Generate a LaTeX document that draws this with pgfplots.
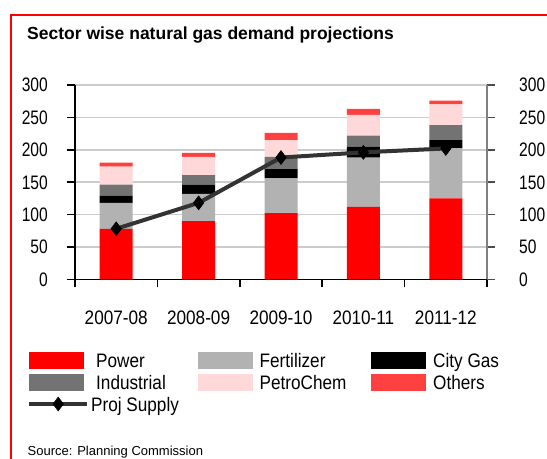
\documentclass[border=0pt]{standalone}
\usepackage{pgfplots}
\pgfplotsset{compat=1.18}
\usepackage{fontspec}
\setmainfont{Liberation Sans}
\newfontfamily\condfont{Liberation Sans}[FakeStretch=0.88]
\newfontfamily\ycondfont{Liberation Sans}[FakeStretch=0.8]
\definecolor{cPower}{RGB}{255,0,0}
\definecolor{cFert}{RGB}{178,178,178}
\definecolor{cCity}{RGB}{0,0,0}
\definecolor{cInd}{RGB}{115,115,115}
\definecolor{cPetro}{RGB}{255,217,217}
\definecolor{cOther}{RGB}{255,64,64}
\definecolor{cLine}{RGB}{51,51,51}
\definecolor{cGrid}{RGB}{204,204,204}
\pgfplotsset{
 barlegend/.style={legend image code/.code={\fill[##1] (0bp,-9.5bp) rectangle (55bp,7.5bp);}},
 linelegend/.style={legend image code/.code={\draw[##1, sharp plot, mark repeat=2, mark phase=2] plot coordinates {(0bp,-1bp) (29bp,-1bp) (58bp,-1bp)};}},
}
\newcommand{\lent}[2]{\hspace*{7bp}\makebox[#1][l]{\rule[-4.3bp]{0pt}{22bp}#2}}
\begin{document}
\begin{tikzpicture}[x=1bp,y=1bp]
\path[use as bounding box] (0,0) rectangle (547,459);
\draw[red, line width=2bp] (11,-5) -- (11,444) -- (560,444);
\node[anchor=base west, inner sep=0] at (27,419.5) {\fontsize{17.5bp}{21bp}\selectfont\bfseries Sector wise natural gas demand projections};
\node[anchor=base west, inner sep=0] at (27.5,3) {\fontsize{13bp}{15bp}\selectfont Source: Planning Commission};
\begin{axis}[
 at={(75bp,179.7bp)}, anchor=south west,
 width=412bp, height=194.3bp, scale only axis,
 xmin=-0.5, xmax=4.5, ymin=0, ymax=300,
 ybar stacked, bar width=33bp,
 axis x line*=bottom, axis y line*=left,
 axis line style={black, line width=1.5bp},
 xtick={0,...,4}, xticklabels={2007-08,2008-09,2009-10,2010-11,2011-12},
 minor xtick={-0.5,0.5,...,4.5},
 major x tick style={draw=none},
 minor x tick style={black, line width=1.5bp},
 y tick style={black, line width=1.5bp},
 tick align=outside, major tick length=8bp, minor tick length=8bp,
 ytick={0,50,...,300}, ymajorgrids, major grid style={cGrid, line width=1.5bp},
 /pgf/number format/assume math mode=true,
 xticklabel style={font=\condfont\fontsize{19.5bp}{23bp}\selectfont, anchor=north, inner sep=0pt, text height=14bp, text depth=0pt, yshift=-23bp},
 yticklabel style={font=\ycondfont\fontsize{19.5bp}{23bp}\selectfont, anchor=east, inner sep=0pt, text height=14bp, text depth=0pt, xshift=-19bp},
 legend columns=3,
 legend style={at={(-0.1165,-0.363)}, anchor=north west, draw=none, fill=none, inner sep=0pt, column sep=0pt, row sep=2.5bp, nodes={inner sep=0pt}, font=\condfont\fontsize{19.5bp}{23bp}\selectfont},
 legend cell align=left,
]
\addplot[fill=cPower, draw=none, barlegend] coordinates {(0,78) (1,90) (2,102) (3,112) (4,125)};
\addlegendentry{\lent{101.5bp}{Power}}
\addplot[fill=cFert, draw=none, barlegend] coordinates {(0,40) (1,42) (2,54) (3,76) (4,77)};
\addlegendentry{\lent{111.5bp}{Fertilizer}}
\addplot[fill=cCity, draw=none, barlegend] coordinates {(0,11) (1,14) (2,14) (3,17) (4,13)};
\addlegendentry{\lent{100bp}{City Gas}}
\addplot[fill=cInd, draw=none, barlegend] coordinates {(0,17) (1,15) (2,19) (3,17) (4,23)};
\addlegendentry{\lent{101.5bp}{Industrial}}
\addplot[fill=cPetro, draw=none, barlegend] coordinates {(0,28) (1,28) (2,26) (3,32) (4,32)};
\addlegendentry{\lent{111.5bp}{PetroChem}}
\addplot[fill=cOther, draw=none, barlegend] coordinates {(0,6) (1,6) (2,11) (3,9) (4,6)};
\addlegendentry{\lent{100bp}{Others}}
\addlegendimage{linelegend, cLine, line width=4bp, mark=diamond*, mark size=7bp, mark options={fill=black, draw=black, line width=0.5bp}}
\addlegendentry{\hspace*{2bp}\makebox[100bp][l]{\rule[-4.3bp]{0pt}{22bp}Proj Supply}}
\end{axis}
\begin{axis}[
 at={(75bp,179.7bp)}, anchor=south west,
 width=412bp, height=194.3bp, scale only axis,
 xmin=-0.5, xmax=4.5, ymin=0, ymax=300,
 axis x line=none, axis y line*=right,
 y axis line style={gray, line width=1.5bp},
 y tick style={black!70, line width=1.5bp},
 ytick={0,50,...,300}, tick align=outside, major tick length=8bp,
 /pgf/number format/assume math mode=true,
 yticklabel style={font=\ycondfont\fontsize{19.5bp}{23bp}\selectfont, anchor=west, inner sep=0pt, text height=14bp, text depth=0pt, xshift=24bp},
 clip=false,
]
\addplot[cLine, line width=4bp, mark=diamond*, mark size=7bp, mark options={fill=black, draw=black, line width=0.5bp}] coordinates {(0,78) (1,118) (2,188) (3,196) (4,202)};
\end{axis}
\end{tikzpicture}
\end{document}
